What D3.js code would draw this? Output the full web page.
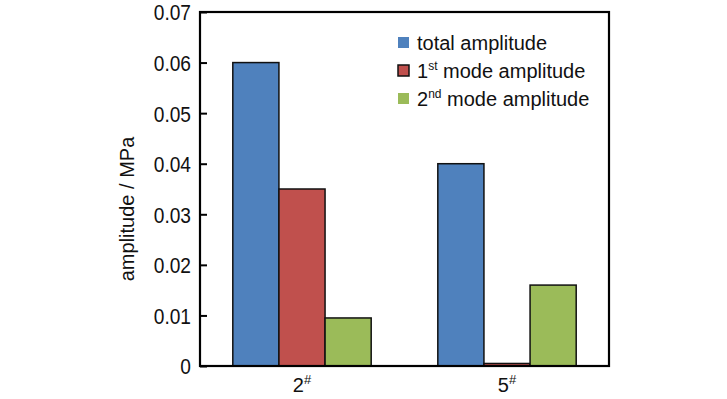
<!DOCTYPE html>
<html>
<head>
<meta charset="utf-8">
<script src="https://cdn.jsdelivr.net/npm/d3@7"></script>
<style>
  body { margin: 0; background: #fff; }
  svg text { font-family: "Liberation Sans", Arial, sans-serif; fill: #111; }
</style>
</head>
<body>
<svg id="chart" width="727" height="399"></svg>
<script>
// chart data
const groups = ['2', '5'];
const seriesNames = ['total amplitude', '1st mode amplitude', '2nd mode amplitude'];
const totalAmp = [0.06, 0.04];
const mode1Amp = [0.035, 0.0005];
const mode2Amp = [0.0095, 0.016];
const yTicks = [0, 0.01, 0.02, 0.03, 0.04, 0.05, 0.06, 0.07];
const colors = ['#4f81bd', '#c0504d', '#9bbb59'];

const margin = { top: 12, right: 118, bottom: 33, left: 200 };
const svg = d3.select('#chart');
const width = 727 - margin.left - margin.right;
const height = 399 - margin.top - margin.bottom;
const g = svg.append('g').attr('transform', `translate(${margin.left},${margin.top})`);

const x0 = d3.scaleBand().domain(groups).range([0, width]).paddingInner(0.325).paddingOuter(0.16);
const x1 = d3.scaleBand().domain(d3.range(3)).range([0, x0.bandwidth()]);
const y = d3.scaleLinear().domain([0, 0.07]).range([height, 0]);

const series = [totalAmp, mode1Amp, mode2Amp];

// bars
groups.forEach((grp, gi) => {
    g.selectAll(null)
        .data(series.map((s, si) => ({ si, v: s[gi] })))
        .enter()
        .append('rect')
        .attr('x', d => x0(grp) + x1(d.si))
        .attr('y', d => y(d.v))
        .attr('width', x1.bandwidth())
        .attr('height', d => height - y(d.v))
        .attr('fill', d => colors[d.si])
        .attr('stroke', '#111')
        .attr('stroke-width', 1.5);
});

// frame
g.append('rect')
    .attr('width', width)
    .attr('height', height)
    .attr('fill', 'none')
    .attr('stroke', '#000')
    .attr('stroke-width', 2.2);

// y axis, ticks inward
const sx = 0.87; // tick labels are a little condensed
const yAxis = g.append('g')
    .call(d3.axisRight(y).tickValues(yTicks).tickSize(7).tickFormat(d => d === 0 ? '0' : d3.format('.2f')(d)));
yAxis.select('.domain').remove();
yAxis.selectAll('line').attr('stroke', '#000').attr('stroke-width', 2);
yAxis.selectAll('text')
    .attr('x', -9 / sx)
    .attr('dy', '0.36em')
    .attr('transform', `scale(${sx},1)`)
    .attr('text-anchor', 'end')
    .style('font-size', '22px');

// x labels
const xl = g.selectAll('.xlab')
    .data(groups)
    .enter()
    .append('text')
    .attr('x', d => x0(d) + x0.bandwidth() / 2)
    .attr('y', height + 26)
    .attr('text-anchor', 'middle')
    .style('font-size', '20px');
xl.append('tspan').text(d => d);
xl.append('tspan').attr('dy', -8).style('font-size', '13px').text('#');

// y label
svg.append('text')
    .attr('transform', `translate(134,${margin.top + height / 2 + 20})rotate(-90)`)
    .attr('text-anchor', 'middle')
    .style('font-size', '20px')
    .text('amplitude / MPa');

// legend
const sups = [null, ['1', 'st'], ['2', 'nd']];
const legend = svg.append('g').attr('transform', 'translate(398,43)');
seriesNames.forEach((name, i) => {
    const row = legend.append('g').attr('transform', `translate(0,${i * 28})`);
    row.append('rect')
        .attr('x', 0).attr('y', -6)
        .attr('width', 11).attr('height', 11)
        .attr('fill', colors[i])
        .attr('stroke', i === 1 ? '#111' : 'none')
        .attr('stroke-width', 1.5);
    const t = row.append('text').attr('x', 19).attr('y', 7).style('font-size', '20px');
    if (sups[i]) {
        t.append('tspan').text(sups[i][0]);
        t.append('tspan').attr('dy', -8).style('font-size', '12px').text(sups[i][1]);
        t.append('tspan').attr('dy', 8).text(name.replace(/^\S+/, ''));
    } else {
        t.text(name);
    }
});
</script>
</body>
</html>
